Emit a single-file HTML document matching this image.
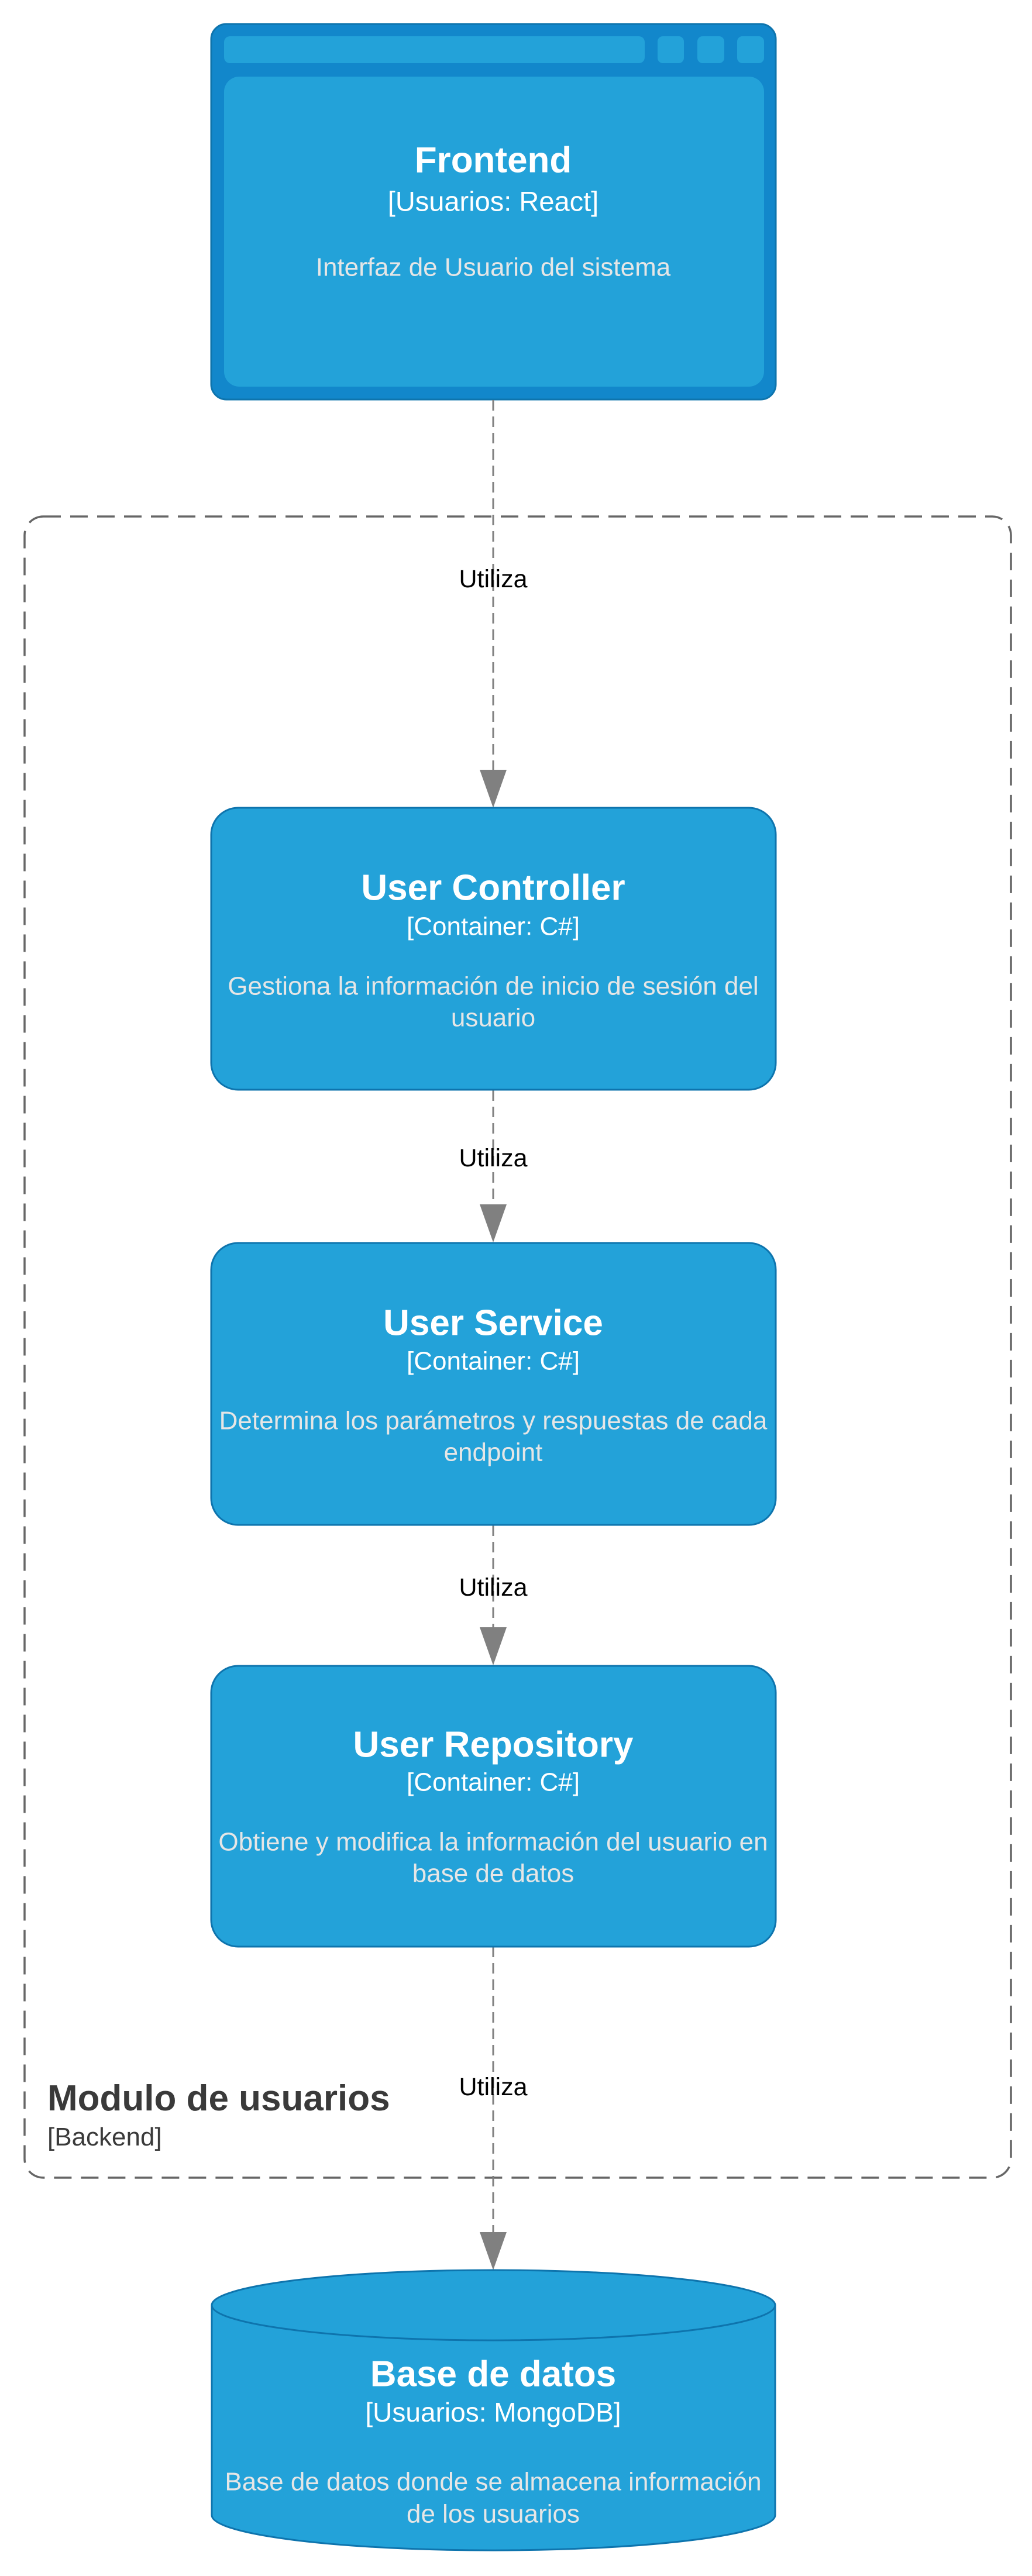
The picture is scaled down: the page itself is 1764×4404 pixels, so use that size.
<!DOCTYPE html>
<html><head><meta charset="utf-8"><style>
html,body{margin:0;padding:0;background:#fff;}
svg{display:block;}
text{font-family:"Liberation Sans",sans-serif;}
</style></head><body>
<svg width="1764" height="4404" viewBox="0 0 1764 4404" xmlns="http://www.w3.org/2000/svg">
<!-- Boundary -->
<rect x="42" y="883" width="1686" height="2840" rx="32" ry="32" fill="none" stroke="#666" stroke-width="3.5" stroke-dasharray="30,16"/>
<text x="81" y="3608" font-size="62" font-weight="bold" fill="#3a3a3a">Modulo de usuarios</text>
<text x="81" y="3668" font-size="44" fill="#3a3a3a">[Backend]</text>

<!-- Frontend -->
<rect x="361" y="41" width="965" height="642" rx="26" fill="#1287cb" stroke="#0e74ad" stroke-width="3"/>
<rect x="383" y="62" width="719" height="46" rx="10" fill="#23a2d9"/>
<rect x="1124" y="62" width="45" height="46" rx="9" fill="#23a2d9"/>
<rect x="1192" y="62" width="46" height="46" rx="9" fill="#23a2d9"/>
<rect x="1260" y="62" width="46" height="46" rx="9" fill="#23a2d9"/>
<rect x="383" y="131" width="923" height="530" rx="26" fill="#23a2d9"/>
<g fill="#fff" text-anchor="middle" dominant-baseline="central">
<text x="843" y="274" font-size="62" font-weight="bold">Frontend</text>
<text x="843" y="344" font-size="47">[Usuarios: React]</text>
<text x="843" y="457" font-size="44" fill="#e6e6e6">Interfaz de Usuario del sistema</text>
</g>

<!-- connectors -->
<g stroke="#808080" stroke-width="3" stroke-dasharray="18,10" fill="none">
<line x1="843" y1="684" x2="843" y2="1318"/>
<line x1="843" y1="1864" x2="843" y2="2060"/>
<line x1="843" y1="2608" x2="843" y2="2783"/>
<line x1="843" y1="3328" x2="843" y2="3817"/>
</g>
<g fill="#808080">
<polygon points="820,1316 866,1316 843,1381"/>
<polygon points="820,2059 866,2059 843,2124"/>
<polygon points="820,2782 866,2782 843,2847"/>
<polygon points="820,3816 866,3816 843,3881"/>
</g>
<g fill="#000" text-anchor="middle" dominant-baseline="central" font-size="43">
<text x="843" y="990">Utiliza</text>
<text x="843" y="1980">Utiliza</text>
<text x="843" y="2714">Utiliza</text>
<text x="843" y="3568">Utiliza</text>
</g>

<!-- User Controller -->
<rect x="361" y="1381" width="965" height="482" rx="46" fill="#23a2d9" stroke="#0e74ad" stroke-width="3"/>
<g fill="#fff" text-anchor="middle" dominant-baseline="central">
<text x="843" y="1518" font-size="62" font-weight="bold">User Controller</text>
<text x="843" y="1584" font-size="44">[Container: C#]</text>
<text x="843" y="1686" font-size="44" fill="#e6e6e6">Gestiona la información de inicio de sesión del</text>
<text x="843" y="1740" font-size="44" fill="#e6e6e6">usuario</text>
</g>

<!-- User Service -->
<rect x="361" y="2125" width="965" height="482" rx="46" fill="#23a2d9" stroke="#0e74ad" stroke-width="3"/>
<g fill="#fff" text-anchor="middle" dominant-baseline="central">
<text x="843" y="2262" font-size="62" font-weight="bold">User Service</text>
<text x="843" y="2327" font-size="44">[Container: C#]</text>
<text x="843" y="2429" font-size="44" fill="#e6e6e6">Determina los parámetros y respuestas de cada</text>
<text x="843" y="2483" font-size="44" fill="#e6e6e6">endpoint</text>
</g>

<!-- User Repository -->
<rect x="361" y="2848" width="965" height="480" rx="46" fill="#23a2d9" stroke="#0e74ad" stroke-width="3"/>
<g fill="#fff" text-anchor="middle" dominant-baseline="central">
<text x="843" y="2983" font-size="62" font-weight="bold">User Repository</text>
<text x="843" y="3047" font-size="44">[Container: C#]</text>
<text x="843" y="3149" font-size="44" fill="#e6e6e6">Obtiene y modifica la información del usuario en</text>
<text x="843" y="3203" font-size="44" fill="#e6e6e6">base de datos</text>
</g>

<!-- Database -->
<path d="M362,3941 L362,4300 A481,60 0 0 0 1325,4300 L1325,3941 A481,60 0 0 0 362,3941 Z" fill="#23a2d9" stroke="#0e74ad" stroke-width="3"/>
<path d="M362,3941 A481,60 0 0 0 1325,3941" fill="none" stroke="#0e74ad" stroke-width="3"/>
<g fill="#fff" text-anchor="middle" dominant-baseline="central">
<text x="843" y="4059" font-size="62" font-weight="bold">Base de datos</text>
<text x="843" y="4124" font-size="46">[Usuarios: MongoDB]</text>
<text x="843" y="4243" font-size="44" fill="#e6e6e6">Base de datos donde se almacena información</text>
<text x="843" y="4298" font-size="44" fill="#e6e6e6">de los usuarios</text>
</g>
</svg>
</body></html>
